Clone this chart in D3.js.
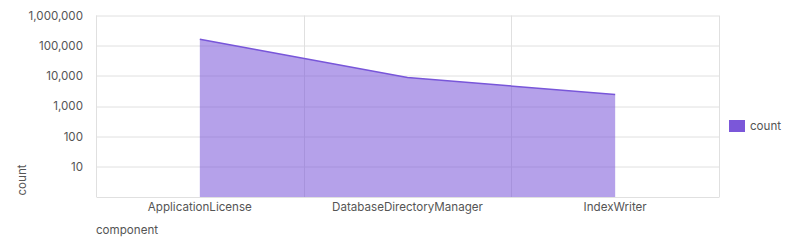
<!DOCTYPE html>
<html>
<head>
<meta charset="utf-8">
<script src="https://cdn.jsdelivr.net/npm/d3@7"></script>
<style>
  body { margin: 0; background: #fff; }
  text { font-family: Inter, "Noto Sans", sans-serif; }
</style>
</head>
<body>
<script>
// data
var components = ["ApplicationLicense", "DatabaseDirectoryManager", "IndexWriter"];
var counts = [165000, 8900, 2450];
var yTicks = [10, 100, 1000, 10000, 100000, 1000000];

var margin = {top: 15.5, right: 81, bottom: 53, left: 96},
    width = 800 - margin.left - margin.right,
    height = 250 - margin.top - margin.bottom;

var svg = d3.select("body").append("svg")
    .attr("width", 800)
    .attr("height", 250);

var g = svg.append("g")
    .attr("transform", "translate(" + margin.left + "," + margin.top + ")");

var xScale = d3.scaleBand().domain(components).range([0, width]);
var yScale = d3.scaleLog().domain([1, 1000000]).range([height, 0]);

var data = components.map(function(c, i) { return {key: c, value: counts[i]}; });

// grid
g.selectAll(".hgrid")
    .data(yTicks)
    .enter().append("line")
    .attr("x1", 0).attr("x2", width)
    .attr("y1", function(d) { return Math.round(yScale(d)) + 0.5; })
    .attr("y2", function(d) { return Math.round(yScale(d)) + 0.5; })
    .attr("stroke", "#e0e0e0");

var bounds = components.slice(1).map(function(c) { return xScale(c); }).concat([0, width]);
g.selectAll(".vgrid")
    .data(bounds)
    .enter().append("line")
    .attr("x1", function(d) { return Math.round(d) + 0.5; })
    .attr("x2", function(d) { return Math.round(d) + 0.5; })
    .attr("y1", 0).attr("y2", height)
    .attr("stroke", "#e0e0e0");

// area
var cx = function(d) { return xScale(d.key) + xScale.bandwidth() / 2; };
var area = d3.area().x(cx).y0(height).y1(function(d) { return yScale(d.value); });
var line = d3.line().x(cx).y(function(d) { return yScale(d.value); });

g.append("path")
    .datum(data)
    .attr("d", area)
    .attr("fill", "#7b57d9")
    .attr("fill-opacity", 0.56);

g.append("path")
    .datum(data)
    .attr("d", line)
    .attr("fill", "none")
    .attr("stroke", "#7856d9")
    .attr("stroke-width", 1.5);

// x axis
var xAxis = g.append("g")
    .attr("transform", "translate(0," + height + ")")
    .call(d3.axisBottom(xScale).tickSize(0).tickPadding(6));
xAxis.select(".domain").attr("stroke", "#e0e0e0");
xAxis.selectAll("text")
    .attr("fill", "#555")
    .attr("font-size", "11.6px")
    .attr("font-family", "Inter, sans-serif");

// y axis
var yAxis = g.append("g")
    .call(d3.axisLeft(yScale).tickValues(yTicks).tickSize(0).tickPadding(13)
        .tickFormat(d3.format(",")));
yAxis.select(".domain").remove();
yAxis.selectAll("text")
    .attr("fill", "#555")
    .attr("font-size", "11.6px")
    .attr("font-family", "Inter, sans-serif");

// axis titles
svg.append("text")
    .attr("x", 96).attr("y", 234)
    .attr("fill", "#555").attr("font-size", "11.6px")
    .text("component");

svg.append("text")
    .attr("transform", "translate(26,180) rotate(-90)")
    .attr("text-anchor", "middle")
    .attr("fill", "#555").attr("font-size", "11.6px")
    .text("count");

// legend
svg.append("rect")
    .attr("x", 729).attr("y", 120)
    .attr("width", 16).attr("height", 12)
    .attr("fill", "#7b57d9");
svg.append("text")
    .attr("x", 750).attr("y", 130)
    .attr("fill", "#555").attr("font-size", "11.6px")
    .text("count");
</script>
</body>
</html>
